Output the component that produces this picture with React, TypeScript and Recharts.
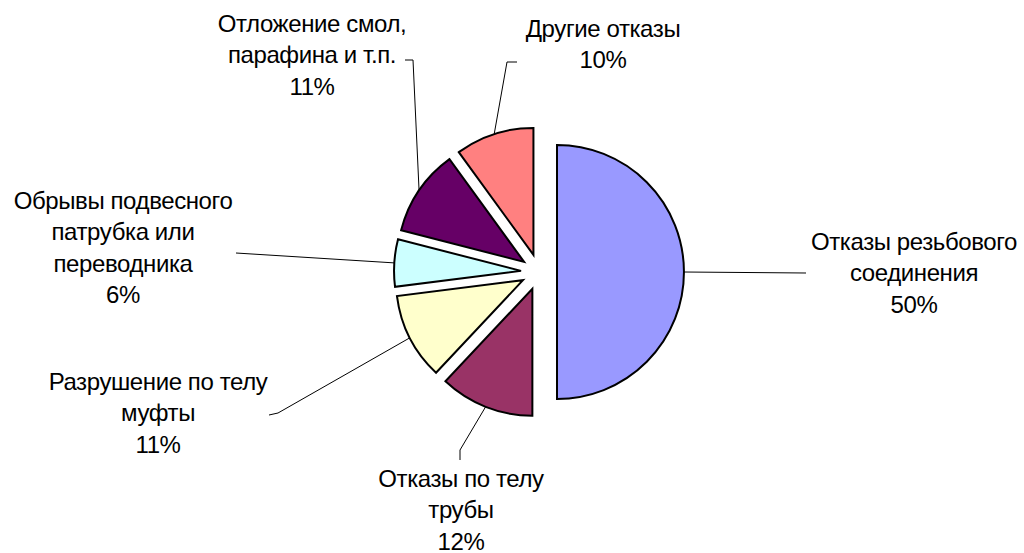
import React from 'react';
import { PieChart, Pie, Cell, Sector } from 'recharts';

const categories = [
  'Отказы резьбового соединения',
  'Отказы по телу трубы',
  'Разрушение по телу муфты',
  'Обрывы подвесного патрубка или переводника',
  'Отложение смол, парафина и т.п.',
  'Другие отказы',
];
const values = [50, 12, 11, 6, 11, 10];
const percentLabels = ['50%', '12%', '11%', '6%', '11%', '10%'];
// how each category name is wrapped in its label
const wrappedNames = [
  ['Отказы резьбового', 'соединения'],
  ['Отказы по телу', 'трубы'],
  ['Разрушение по телу', 'муфты'],
  ['Обрывы подвесного', 'патрубка или', 'переводника'],
  ['Отложение смол,', 'парафина и т.п.'],
  ['Другие отказы'],
];
const colors = ['#9999FF', '#993366', '#FFFFCC', '#CCFFFF', '#660066', '#FF8080'];

// label placement (text centre x, first line y, leader elbow points)
const labelLayout = [
  { x: 914, y: 241, leader: [[806, 273]] },
  { x: 461, y: 478, leader: [[460, 450], [460, 460]] },
  { x: 158, y: 381, leader: [[278, 413], [269, 415]] },
  { x: 123, y: 200, leader: [[236, 253]] },
  { x: 312, y: 23, leader: [[413, 60], [405, 60]] },
  { x: 603, y: 28, leader: [[507, 62], [517, 62]] },
];

const data = categories.map((name, i) => ({ name, value: values[i] }));

const RAD = Math.PI / 180;
const EXPLODE = 18;
const LINE_H = 31.5;
const FONT = '"Liberation Sans", Arial, sans-serif';

const ExplodedSector = (props: any) => {
  const { cx, cy, midAngle } = props;
  const dx = EXPLODE * Math.cos(-midAngle * RAD);
  const dy = EXPLODE * Math.sin(-midAngle * RAD);
  return <Sector {...props} cx={cx + dx} cy={cy + dy} />;
};

const renderLabel = (props: any) => {
  const { cx, cy, midAngle, outerRadius, index } = props;
  const lay = labelLayout[index];
  const r = outerRadius + EXPLODE;
  const sx = cx + r * Math.cos(-midAngle * RAD);
  const sy = cy + r * Math.sin(-midAngle * RAD);
  const pts = [[sx, sy], ...lay.leader].map(p => p.join(',')).join(' ');
  const lines = [...wrappedNames[index], percentLabels[index]];
  return (
    <g key={`lbl-${index}`}>
      <polyline points={pts} fill="none" stroke="#000" strokeWidth={1} />
      {lines.map((t, k) => (
        <text
          key={k}
          x={lay.x}
          y={lay.y + k * LINE_H}
          textAnchor="middle"
          dominantBaseline="central"
          fontFamily={FONT}
          fontSize={24}
          letterSpacing={-0.4}
          fill="#000"
        >
          {t}
        </text>
      ))}
    </g>
  );
};

const App: React.FC = () => {
  return (
    <div style={{ position: 'absolute', left: 0, top: 0, background: '#fff' }}>
      <PieChart width={1024} height={553} margin={{ top: 0, right: 0, bottom: 0, left: 0 }}>
        <Pie
          data={data}
          dataKey="value"
          nameKey="name"
          cx={539}
          cy={272}
          outerRadius={127}
          startAngle={90}
          endAngle={-270}
          stroke="#000"
          strokeWidth={2}
          shape={ExplodedSector}
          label={renderLabel}
          labelLine={false}
          isAnimationActive={false}
        >
          {data.map((d, i) => (
            <Cell key={d.name} fill={colors[i]} />
          ))}
        </Pie>
      </PieChart>
    </div>
  );
};

export default App;
